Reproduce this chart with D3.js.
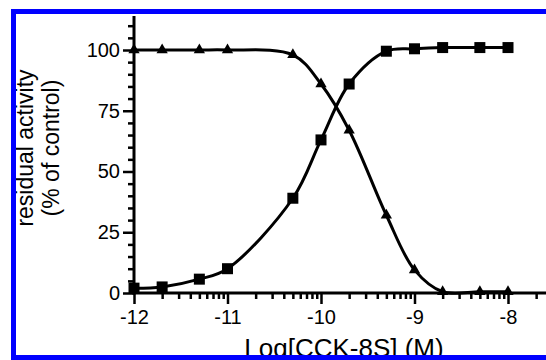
<!DOCTYPE html>
<html>
<head>
<meta charset="utf-8">
<script src="https://cdn.jsdelivr.net/npm/d3@7"></script>
<style>
  body { margin: 0; background: #fff; }
  svg { display: block; }
  text { font-family: "Liberation Sans", Arial, sans-serif; fill: #000; }
</style>
</head>
<body>
<svg id="chart" width="546" height="360"></svg>
<script>
// log concentrations (M)
const logConc = [-12, -11.699, -11.301, -11, -10.301, -10, -9.699, -9.301, -9, -8.699, -8.301, -8];
// squares: rising curve
const squareVals = [2, 2.5, 5.7, 10, 39, 63, 86, 99.5, 100.5, 101, 101, 101];
// triangles: falling curve
const triangleVals = [100, 100, 100, 100, 98, 86, 67, 32, 9.5, 0.5, 0.5, 0.5];

const yTicks = [0, 25, 50, 75, 100];
const xTicks = [-12, -11, -10, -9, -8];

const svg = d3.select("#chart");

const x = d3.scaleLinear().domain([-12, -8]).range([134, 508]);
const y = d3.scaleLinear().domain([0, 100]).range([293, 50]);

const xAxisEnd = -7.55;
const yAxisTop = 114;

// minor ticks
const yMinor = d3.range(0, yAxisTop, 5).filter(v => v % 25 !== 0);
const xMinor = [];
for (let dec = -12; dec < -7; dec++) {
  for (let k = 2; k <= 9; k++) {
    const v = dec + Math.log10(k);
    if (v <= xAxisEnd) xMinor.push(v);
  }
}

// Y axis
const yAxisG = svg.append("g").attr("transform", `translate(${x(-12)},0)`);
yAxisG.append("g")
  .call(d3.axisLeft(y).tickValues(yMinor).tickSize(6).tickFormat(""))
  .call(g => g.select(".domain").remove());
yAxisG.append("g")
  .call(d3.axisLeft(y).tickValues(yTicks).tickSize(11).tickPadding(3))
  .call(g => g.select(".domain").remove())
  .call(g => g.selectAll("text").style("font-size", "20px"));
yAxisG.selectAll("line").attr("stroke", "#000").attr("stroke-width", 2.5);
yAxisG.append("line")
  .attr("x1", 0).attr("x2", 0)
  .attr("y1", y(yAxisTop)).attr("y2", y(0) + 1.5)
  .attr("stroke", "#000").attr("stroke-width", 3);

// X axis
const xAxisG = svg.append("g").attr("transform", `translate(0,${y(0)})`);
xAxisG.append("g")
  .call(d3.axisBottom(x).tickValues(xMinor).tickSize(6).tickFormat(""))
  .call(g => g.select(".domain").remove());
xAxisG.append("g")
  .call(d3.axisBottom(x).tickValues(xTicks).tickSize(11).tickPadding(6).tickFormat(d => d))
  .call(g => g.select(".domain").remove())
  .call(g => g.selectAll("text").style("font-size", "20px"));
xAxisG.selectAll("line").attr("stroke", "#000").attr("stroke-width", 2.5);
xAxisG.append("line")
  .attr("x1", x(-12) - 1.5).attr("x2", x(xAxisEnd))
  .attr("y1", 0).attr("y2", 0)
  .attr("stroke", "#000").attr("stroke-width", 3);

// curves
const line = d3.line()
  .x(d => x(d[0]))
  .y(d => y(d[1]))
  .curve(d3.curveCatmullRom.alpha(0.5));

const sqData = logConc.map((c, i) => [c, squareVals[i]]);
const trData = logConc.map((c, i) => [c, triangleVals[i]]);

svg.append("path").datum(sqData)
  .attr("d", line).attr("fill", "none").attr("stroke", "#000").attr("stroke-width", 3);
svg.append("path").datum(trData)
  .attr("d", line).attr("fill", "none").attr("stroke", "#000").attr("stroke-width", 3);

// markers
svg.selectAll(".sq").data(sqData).enter().append("rect")
  .attr("class", "sq")
  .attr("x", d => x(d[0]) - 5.5)
  .attr("y", d => y(d[1]) - 5.5)
  .attr("width", 11).attr("height", 11)
  .attr("fill", "#000");

const tri = d3.symbol().type(d3.symbolTriangle).size(55);
svg.selectAll(".tr").data(trData).enter().append("path")
  .attr("class", "tr")
  .attr("transform", d => `translate(${x(d[0])},${y(d[1])})`)
  .attr("d", tri)
  .attr("fill", "#000");

// axis titles
svg.append("text")
  .attr("x", 344).attr("y", 357)
  .attr("text-anchor", "middle")
  .style("font-size", "26px")
  .text("Log[CCK-8S] (M)");

const yTitle = svg.append("text")
  .attr("transform", "translate(0,148) rotate(-90)")
  .attr("text-anchor", "middle")
  .style("font-size", "23px");
yTitle.append("tspan").attr("x", 0).attr("y", 33).text("residual activity");
yTitle.append("tspan").attr("x", 0).attr("y", 59).text("(% of control)");

// blue frame
svg.append("rect")
  .attr("x", 13.5).attr("y", 11.5)
  .attr("width", 545).attr("height", 346)
  .attr("fill", "none")
  .attr("stroke", "#0000ff")
  .attr("stroke-width", 5);
</script>
</body>
</html>
